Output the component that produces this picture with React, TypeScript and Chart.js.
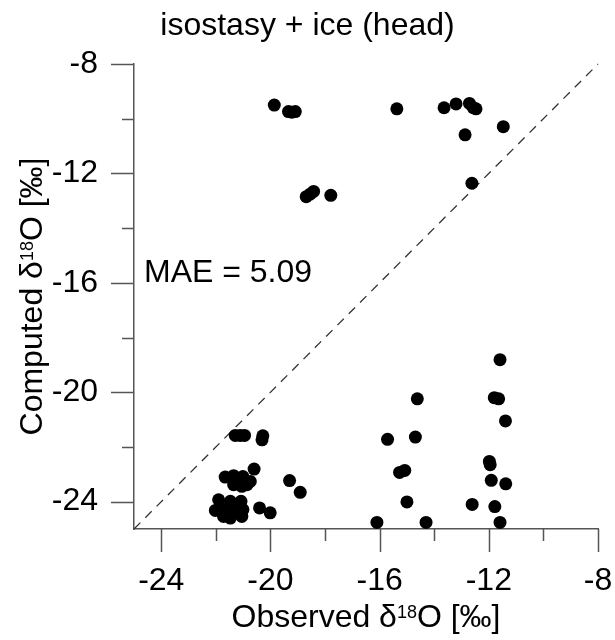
import React, { useEffect, useRef } from "react";
import { Chart, registerables } from "chart.js";

Chart.register(...registerables);

// ---- data ----
const observed = [
  -19.86, -19.34, -19.22, -19.09, -15.37, -13.64, -13.2, -12.71, -12.57, -12.47,
  -11.47, -12.87, -12.62, -18.69, -18.55, -18.42, -17.79,
  -11.59, -14.62, -11.8, -11.64, -11.39, -15.71, -14.69, -11.98, -11.95, -15.27,
  -15.08, -11.91, -11.38, -15.0, -12.61, -11.78, -16.1, -14.3, -11.59,
  -21.29, -21.11, -20.95, -20.28, -20.31, -20.6, -19.3, -18.91, -21.66, -21.35,
  -21.01, -20.74, -21.35, -21.05, -20.86, -21.9, -21.47, -21.08, -22.02, -21.66,
  -21.29, -21.01, -21.47, -21.05, -21.72, -20.4, -20.01,
];
const computed = [
  -9.5, -9.74, -9.76, -9.74, -9.64, -9.6, -9.46, -9.44, -9.6, -9.64,
  -10.29, -10.59, -12.36, -12.85, -12.76, -12.66, -12.8,
  -18.81, -20.24, -20.2, -20.24, -21.05, -21.72, -21.64, -22.53, -22.65, -22.93,
  -22.86, -23.22, -23.35, -24.01, -24.1, -24.18, -24.76, -24.76, -24.76,
  -21.58, -21.58, -21.58, -21.59, -21.74, -22.81, -23.23, -23.66, -23.1, -23.05,
  -23.08, -23.26, -23.38, -23.44, -23.38, -23.93, -23.99, -23.99, -24.32, -24.27,
  -24.29, -24.29, -24.6, -24.54, -24.54, -24.23, -24.41,
];
const diagonalX = [-25, -8];
const diagonalY = [-25, -8];
const axisMin = -25;
const axisMax = -8;
const tickValues = [-24, -22, -20, -18, -16, -14, -12, -10, -8];
const labelledTicks = [-24, -20, -16, -12, -8];
const titleText = "isostasy + ice (head)";
const maeText = "MAE = 5.09";
const xTitleParts = ["Observed \u03b4", "18", "O [\u2030]"];
const yTitleParts = ["Computed \u03b4", "18", "O [\u2030]"];

const FONT = '"Liberation Sans", Arial, Helvetica, sans-serif';
const AXIS_COLOR = "#555555";

function drawSup(
  ctx: CanvasRenderingContext2D,
  parts: string[],
  cx: number,
  baseline: number,
  size: number,
  supSize: number,
  rise: number
) {
  const main = `${size}px ${FONT}`;
  const sup = `${supSize}px ${FONT}`;
  ctx.font = main;
  const w0 = ctx.measureText(parts[0]).width;
  const w2 = ctx.measureText(parts[2]).width;
  ctx.font = sup;
  const w1 = ctx.measureText(parts[1]).width;
  let x = cx - (w0 + w1 + w2) / 2;
  ctx.textAlign = "left";
  ctx.textBaseline = "alphabetic";
  ctx.font = main;
  ctx.fillText(parts[0], x, baseline);
  x += w0;
  ctx.font = sup;
  ctx.fillText(parts[1], x, baseline - rise);
  x += w1;
  ctx.font = main;
  ctx.fillText(parts[2], x, baseline);
}

const decorPlugin = {
  id: "decor",
  afterDraw(chart: any) {
    const { ctx, chartArea } = chart;
    const xs = chart.scales.x;
    const ys = chart.scales.y;
    ctx.save();
    // tick marks
    ctx.strokeStyle = AXIS_COLOR;
    ctx.lineWidth = 1.5;
    ctx.beginPath();
    tickValues.forEach((v) => {
      const len = labelledTicks.includes(v) ? 23 : 12;
      const px = Math.round(xs.getPixelForValue(v)) + 0.5;
      ctx.moveTo(px, chartArea.bottom);
      ctx.lineTo(px, chartArea.bottom + len);
      const py = Math.round(ys.getPixelForValue(v)) + 0.5;
      ctx.moveTo(chartArea.left, py);
      ctx.lineTo(chartArea.left - len, py);
    });
    ctx.stroke();

    ctx.fillStyle = "#000";
    // title
    ctx.font = `32px ${FONT}`;
    ctx.textAlign = "center";
    ctx.textBaseline = "alphabetic";
    ctx.fillText(titleText, chart.width / 2, 35);
    // MAE annotation
    ctx.textAlign = "left";
    ctx.fillText(maeText, chartArea.left + 10, 281.5);
    // axis titles
    const cxPlot = (chartArea.left + chartArea.right) / 2;
    const cyPlot = (chartArea.top + chartArea.bottom) / 2;
    drawSup(ctx, xTitleParts, cxPlot, 626.5, 32, 18, 8.5);
    ctx.translate(41.5, cyPlot);
    ctx.rotate(-Math.PI / 2);
    drawSup(ctx, yTitleParts, 0, 0, 32, 18, 8.5);
    ctx.restore();
  },
};

export default function App() {
  const canvasRef = useRef<HTMLCanvasElement | null>(null);

  useEffect(() => {
    if (!canvasRef.current) return;
    const points = observed.map((x, i) => ({ x, y: computed[i] }));
    const diag = diagonalX.map((x, i) => ({ x, y: diagonalY[i] }));
    const tickFont = { family: FONT, size: 32 };
    const chart = new Chart(canvasRef.current, {
      type: "scatter",
      data: {
        datasets: [
          {
            data: points,
            backgroundColor: "#000",
            borderWidth: 0,
            pointRadius: 6.5,
            pointHoverRadius: 6.5,
            showLine: false,
            clip: false,
          } as any,
          {
            type: "line",
            data: diag,
            borderColor: "#333",
            borderWidth: 1.3,
            borderDash: [9, 7],
            pointRadius: 0,
            fill: false,
            clip: false,
          } as any,
        ],
      },
      plugins: [decorPlugin],
      options: {
        responsive: false,
        devicePixelRatio: 1,
        animation: false,
        layout: { padding: { top: 64, right: 17, bottom: 0, left: 0 } },
        plugins: {
          legend: { display: false },
          tooltip: { enabled: false },
          title: { display: false },
        },
        scales: {
          x: {
            type: "linear",
            min: axisMin,
            max: axisMax,
            offset: false,
            afterBuildTicks: (s: any) => {
              s.ticks = tickValues.map((v) => ({ value: v }));
            },
            afterFit: (s: any) => {
              s.height = 111;
              s.paddingLeft = 0;
              s.paddingRight = 0;
            },
            grid: { display: false, drawTicks: false, tickLength: 0 },
            border: { display: true, color: AXIS_COLOR, width: 1.5 },
            ticks: {
              autoSkip: false,
              maxRotation: 0,
              minRotation: 0,
              padding: 33,
              color: "#000",
              font: tickFont,
              callback: (v: any) => (labelledTicks.includes(Number(v)) ? String(v) : ""),
            },
          },
          y: {
            type: "linear",
            min: axisMin,
            max: axisMax,
            offset: false,
            afterBuildTicks: (s: any) => {
              s.ticks = tickValues.map((v) => ({ value: v }));
            },
            afterFit: (s: any) => {
              s.width = 134;
              s.paddingTop = 0;
              s.paddingBottom = 0;
            },
            grid: { display: false, drawTicks: false, tickLength: 0 },
            border: { display: true, color: AXIS_COLOR, width: 1.5 },
            ticks: {
              autoSkip: false,
              padding: 36,
              color: "#000",
              font: tickFont,
              callback: (v: any) => (labelledTicks.includes(Number(v)) ? String(v) : ""),
            },
          },
        },
      } as any,
    });
    return () => chart.destroy();
  }, []);

  return (
    <div
      style={{
        position: "absolute",
        left: 0,
        top: 0,
        width: 615,
        height: 640,
        background: "#fff",
      }}
    >
      <canvas ref={canvasRef} width={615} height={640} style={{ display: "block" }} />
    </div>
  );
}
